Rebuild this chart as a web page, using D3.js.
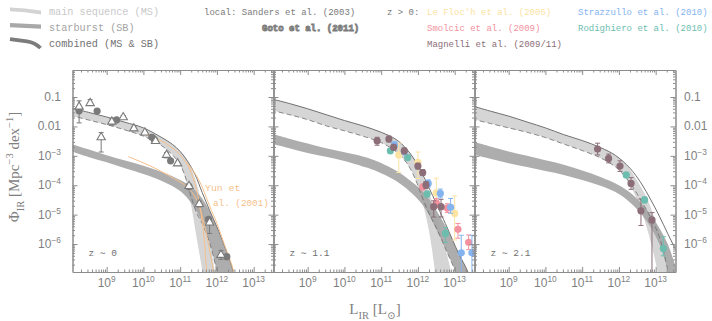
<!DOCTYPE html>
<html>
<head>
<meta charset="utf-8">
<script src="https://cdn.jsdelivr.net/npm/d3@7"></script>
<style>
  body { margin: 0; background: #fff; }
  svg { display: block; }
</style>
</head>
<body>
<script>
// ---- values: [log10 L_IR, log10 Phi] ----
const panelLabels = ["z \u223C 0", "z \u223C 1.1", "z \u223C 2.1"];
const xTickExps = [9, 10, 11, 12, 13];
const yTickExps = [-1, -2, -3, -4, -5, -6];
const yTickText = ["0.1", "0.01", "10|\u22123", "10|\u22124", "10|\u22125", "10|\u22126"];

// main-sequence band edges, one list per panel
const msUpper = [
  [[8.0,-1.36],[8.5,-1.52],[9.0,-1.68],[9.5,-1.86],[10.0,-2.05],[10.5,-2.38],[10.8,-2.62],[11.0,-2.85],[11.2,-3.18],[11.4,-3.75],[11.6,-4.7],[11.8,-5.8],[11.95,-7.0],[12.0,-7.4]],
  [[8.0,-1.06],[8.5,-1.22],[9.0,-1.40],[9.5,-1.60],[10.0,-1.80],[10.5,-1.98],[11.0,-2.2],[11.4,-2.44],[11.7,-2.78],[12.0,-3.32],[12.2,-3.9],[12.4,-4.6],[12.6,-5.45],[12.8,-6.4],[12.9,-6.95],[12.95,-7.4]],
  [[8.0,-1.3],[8.5,-1.48],[9.0,-1.65],[9.5,-1.85],[10.0,-2.05],[10.5,-2.28],[11.0,-2.48],[11.5,-2.72],[11.9,-2.98],[12.2,-3.3],[12.5,-3.85],[12.8,-4.55],[13.0,-5.25],[13.2,-6.15],[13.33,-6.95],[13.4,-7.4]]
];
const msLower = [
  [[8.0,-1.62],[8.5,-1.78],[9.0,-1.94],[9.5,-2.12],[10.0,-2.33],[10.5,-2.66],[10.8,-2.98],[11.0,-3.3],[11.15,-3.8],[11.3,-4.7],[11.45,-5.8],[11.6,-6.9],[11.65,-7.4]],
  [[8.0,-1.45],[8.5,-1.6],[9.0,-1.77],[9.5,-1.98],[10.0,-2.15],[10.5,-2.33],[11.0,-2.55],[11.4,-2.85],[11.7,-3.25],[11.95,-3.85],[12.1,-4.45],[12.3,-5.55],[12.45,-6.8],[12.5,-7.4]],
  [[8.0,-1.75],[8.5,-1.9],[9.0,-2.05],[9.5,-2.2],[10.0,-2.38],[10.5,-2.6],[11.0,-2.82],[11.5,-3.07],[11.9,-3.37],[12.2,-3.8],[12.5,-4.5],[12.7,-5.2],[12.9,-6.1],[13.05,-6.95],[13.1,-7.4]]
];
// starburst band edges
const sbUpper = [
  [[8.0,-2.58],[8.5,-2.78],[9.0,-2.98],[9.5,-3.16],[10.0,-3.34],[10.5,-3.55],[11.0,-3.82],[11.3,-4.05],[11.6,-4.45],[11.85,-5.0],[12.1,-5.75],[12.3,-6.4],[12.45,-6.95],[12.5,-7.4]],
  [[8.0,-2.24],[8.5,-2.42],[9.0,-2.58],[9.5,-2.74],[10.0,-2.88],[10.5,-3.02],[10.8,-3.14],[11.4,-3.5],[11.9,-3.95],[12.2,-4.3],[12.5,-4.85],[12.8,-5.5],[13.1,-6.3],[13.36,-6.95],[13.45,-7.4]],
  [[8.0,-2.5],[8.5,-2.68],[9.0,-2.85],[9.5,-3.0],[10.0,-3.15],[10.5,-3.3],[11.0,-3.5],[11.5,-3.72],[12.0,-4.0],[12.4,-4.35],[12.8,-4.9],[13.1,-5.45],[13.33,-6.0],[13.5,-6.6],[13.6,-7.0]]
];
const sbLower = [
  [[8.0,-2.83],[8.5,-3.04],[9.0,-3.22],[9.5,-3.42],[10.0,-3.62],[10.5,-3.86],[11.0,-4.2],[11.3,-4.6],[11.6,-5.25],[11.8,-5.95],[11.99,-6.9],[12.05,-7.4]],
  [[8.0,-2.58],[8.5,-2.74],[9.0,-2.9],[9.5,-3.03],[10.0,-3.18],[10.5,-3.36],[10.8,-3.48],[11.4,-3.85],[11.9,-4.35],[12.2,-4.8],[12.5,-5.5],[12.8,-6.3],[13.02,-6.95],[13.08,-7.4]],
  [[8.0,-2.95],[8.5,-3.1],[9.0,-3.25],[9.5,-3.38],[10.0,-3.52],[10.5,-3.65],[11.0,-3.82],[11.5,-4.02],[12.0,-4.3],[12.4,-4.7],[12.8,-5.3],[13.1,-6.0],[13.33,-6.9],[13.4,-7.4]]
];
// combined (MS & SB): solid upper edge, dashed lower edge
const combUpper = [
  [[8.0,-1.36],[8.5,-1.52],[9.0,-1.68],[9.5,-1.86],[10.0,-2.05],[10.5,-2.38],[10.8,-2.62],[11.0,-2.85],[11.2,-3.18],[11.4,-3.62],[11.6,-4.25],[11.8,-4.85],[12.0,-5.42],[12.2,-6.05],[12.45,-6.95],[12.5,-7.4]],
  [[8.0,-1.06],[8.5,-1.22],[9.0,-1.40],[9.5,-1.60],[10.0,-1.80],[10.5,-1.98],[11.0,-2.2],[11.4,-2.44],[11.7,-2.78],[12.0,-3.32],[12.2,-3.82],[12.4,-4.35],[12.6,-4.9],[12.8,-5.45],[13.1,-6.3],[13.36,-6.95],[13.45,-7.4]],
  [[8.0,-1.3],[8.5,-1.48],[9.0,-1.65],[9.5,-1.85],[10.0,-2.05],[10.5,-2.28],[11.0,-2.48],[11.5,-2.72],[11.9,-2.98],[12.3,-3.42],[12.6,-3.92],[12.87,-4.5],[13.1,-5.05],[13.33,-5.65],[13.6,-6.35],[13.7,-6.7]]
];
const combLower = [
  [[8.0,-1.62],[8.5,-1.78],[9.0,-1.94],[9.5,-2.12],[10.0,-2.33],[10.5,-2.66],[10.8,-2.98],[11.0,-3.3],[11.15,-3.75],[11.3,-4.4],[11.45,-4.95],[11.6,-5.3],[11.8,-5.95],[11.99,-6.9],[12.05,-7.4]],
  [[8.0,-1.45],[8.5,-1.6],[9.0,-1.77],[9.5,-1.98],[10.0,-2.15],[10.5,-2.33],[11.0,-2.55],[11.4,-2.85],[11.7,-3.25],[11.95,-3.85],[12.1,-4.35],[12.3,-4.95],[12.5,-5.45],[12.8,-6.3],[13.02,-6.95],[13.08,-7.4]],
  [[8.0,-1.75],[8.5,-1.9],[9.0,-2.05],[9.5,-2.2],[10.0,-2.38],[10.5,-2.6],[11.0,-2.82],[11.5,-3.07],[11.9,-3.37],[12.2,-3.75],[12.5,-4.3],[12.8,-4.95],[13.1,-5.75],[13.33,-6.9],[13.4,-7.4]]
];

// Yun et al. (2001), panel z~0 only
const yunLines = [
  [[10.0,-2.26],[10.5,-2.5],[10.9,-2.85],[11.2,-3.3],[11.4,-3.95],[11.55,-4.8],[11.65,-5.8],[11.72,-6.9],[11.75,-7.3]],
  [[9.59,-3.03],[10.2,-3.35],[10.73,-3.7],[11.18,-4.05],[11.45,-4.5],[11.65,-5.3],[11.8,-6.2],[11.9,-6.9],[11.95,-7.3]],
  [[11.2,-3.25],[11.5,-3.8],[11.8,-4.7],[12.0,-5.3],[12.2,-6.0],[12.45,-6.9],[12.5,-7.3]]
];

// data points: [logL, logPhi, errDown, errUp]
const sanders = [[8.25,-1.47,0,0],[8.74,-1.48,0,0],[9.18,-1.82,0,0],[9.27,-1.78,0,0],[10.23,-2.37,0,0],[10.30,-2.46,0,0],[10.74,-3.17,0,0],[11.24,-4.05,0,0],[11.77,-5.16,0,0],[12.27,-6.43,0,0]];
const goto = [[8.25,-1.33,0.55,0.2],[8.55,-1.21,0,0.12],[8.85,-2.37,0.5,0.16],[9.14,-1.84,0.12,0.1],[9.45,-1.69,0.04,0.06],[9.74,-2.07,0.05,0.05],[10.04,-2.21,0.03,0.03],[10.33,-2.50,0.03,0.03],[10.63,-2.97,0.1,0.08],[10.93,-3.26,0.05,0.05],[11.24,-4.03,0.08,0.08],[11.52,-4.64,0.1,0.1],[11.80,-5.27,0.37,0.15],[12.11,-6.37,0.15,0.15]];
const magnelli1 = [[10.89,-2.49,0.15,0.12],[11.21,-2.43,0.1,0.1],[11.34,-2.71,0.1,0.1],[11.63,-2.83,0.1,0.1],[12.0,-3.35,0.1,0.1],[12.13,-3.57,0.1,0.1],[12.22,-3.99,0.12,0.12],[12.43,-4.73,0.35,0.2],[12.63,-4.73,0.35,0.25]];
const rodighiero1 = [[11.25,-2.83,0.08,0.08],[11.72,-3.06,0.08,0.08],[12.25,-4.30,0.1,0.1],[12.75,-5.64,0.3,0.2]];
const strazzullo1 = [[11.36,-2.63,0.1,0.1],[11.63,-2.86,0.1,0.1],[12.28,-3.94,0.12,0.12],[12.61,-4.28,0.15,0.15],[12.89,-4.75,0.2,0.3],[13.18,-6.30,0.7,0.6],[13.47,-6.30,0.7,0.6]];
const leFloch1 = [[11.48,-2.97,0.6,0.4],[12.0,-3.22,0.55,0.35],[12.5,-4.26,0.4,0.5],[13.0,-4.96,0.9,0.6]];
const smolcic1 = [[12.13,-4.06,0.1,0.1],[12.5,-4.6,0.15,0.15],[12.8,-4.78,0.15,0.15],[13.09,-5.5,0.3,0.2],[13.38,-5.94,0.25,0.25]];
const magnelli2 = [[11.42,-2.77,0.2,0.2],[11.72,-3.09,0.15,0.15],[12.03,-3.35,0.18,0.18],[12.33,-3.94,0.2,0.2],[12.6,-4.87,0.5,0.4],[12.9,-5.18,2.0,0.25]];
const rodighiero2 = [[12.2,-3.65,0.08,0.08],[12.7,-4.5,0.1,0.1],[13.21,-6.15,0.25,0.4]];

const col = {
  ms: "#d5d5d5", sb: "#a4a4a4", comb: "#707070", text: "#7f7f7f", axis: "#8c8c8c",
  yun: "#f6bf8c", sanders: "#7a7a7a", magnelli: "#8c6e78", rodighiero: "#6dbdaf",
  strazzullo: "#84b4f0", leFloch: "#fce3a2", smolcic: "#f3919e"
};

const W = 712, H = 321;
const panelX = [72.5, 273.5, 474.5], panelW = 201;
const yTop = 70, yBot = 272;
const mono = "'Liberation Mono', 'DejaVu Sans Mono', monospace";
const sans = "'Liberation Sans', Arial, sans-serif";
const serif = "'Liberation Serif', 'DejaVu Serif', serif";

const svg = d3.select("body").append("svg")
  .attr("width", W).attr("height", H)
  .style("background", "#fff");

const y = d3.scaleLog().domain([10 ** -6.95, 10 ** -0.082]).range([yBot, yTop]);

// text with sup / sub pieces: parts = [[str, kind]]
function richText(g, parts, size) {
  const t = g.append("text").attr("font-size", size);
  let shift = 0;
  parts.forEach(([s, kind]) => {
    const target = kind === "sup" ? -0.42 * size : kind === "sub" ? 0.3 * size : 0;
    t.append("tspan")
      .attr("dy", target - shift)
      .attr("font-size", kind ? size * 0.7 : size)
      .text(s);
    shift = target;
  });
  return t;
}

panelX.forEach((x0, i) => {
  const x = d3.scaleLog().domain([10 ** 8.07, 10 ** 13.54]).range([x0, x0 + panelW]);
  const px = d => x(10 ** d[0]), py = d => y(10 ** d[1]);
  const line = d3.line().x(px).y(py).curve(d3.curveCatmullRom.alpha(0.5));

  const clipId = "clip" + i;
  svg.append("clipPath").attr("id", clipId)
    .append("rect").attr("x", x0).attr("y", yTop).attr("width", panelW).attr("height", yBot - yTop);
  const g = svg.append("g").attr("clip-path", `url(#${clipId})`);

  const band = (up, lo) => line(up.concat(lo.slice().reverse()));
  g.append("path").attr("d", band(msUpper[i], msLower[i])).attr("fill", col.ms);
  g.append("path").attr("d", band(sbUpper[i], sbLower[i])).attr("fill", col.sb).attr("fill-opacity", 0.9);
  g.append("path").attr("d", line(combUpper[i])).attr("fill", "none").attr("stroke", col.comb).attr("stroke-width", 1);
  g.append("path").attr("d", line(combLower[i])).attr("fill", "none").attr("stroke", col.comb)
    .attr("stroke-width", 0.8).attr("stroke-dasharray", "5,3");

  if (i === 0) {
    yunLines.forEach(l => g.append("path").attr("d", line(l)).attr("fill", "none")
      .attr("stroke", col.yun).attr("stroke-width", 1));
  }

  const errBars = (data, color) => {
    const eg = g.append("g").attr("stroke", color).attr("stroke-width", 1);
    data.filter(d => d[2] > 0 || d[3] > 0).forEach(d => {
      const xx = px(d), y1 = y(10 ** (d[1] - d[2])), y2 = y(10 ** (d[1] + d[3]));
      eg.append("line").attr("x1", xx).attr("x2", xx).attr("y1", y1).attr("y2", y2);
      eg.append("line").attr("x1", xx - 2.5).attr("x2", xx + 2.5).attr("y1", y1).attr("y2", y1);
      eg.append("line").attr("x1", xx - 2.5).attr("x2", xx + 2.5).attr("y1", y2).attr("y2", y2);
    });
  };
  const dots = (data, color) => {
    errBars(data, color);
    g.append("g").selectAll("circle").data(data).join("circle")
      .attr("cx", px).attr("cy", py).attr("r", 3.6).attr("fill", color);
  };

  if (i === 0) {
    dots(sanders, col.sanders);
    errBars(goto, col.sanders);
    g.append("g").selectAll("path").data(goto).join("path")
      .attr("d", d3.symbol(d3.symbolTriangle, 30))
      .attr("transform", d => `translate(${px(d)},${py(d)})`)
      .attr("fill", "#fff").attr("stroke", col.sanders).attr("stroke-width", 1.1);
  } else if (i === 1) {
    dots(leFloch1, col.leFloch);
    dots(smolcic1, col.smolcic);
    dots(strazzullo1, col.strazzullo);
    dots(rodighiero1, col.rodighiero);
    dots(magnelli1, col.magnelli);
  } else {
    dots(magnelli2, col.magnelli);
    dots(rodighiero2, col.rodighiero);
  }

  // frame and inward ticks on all four sides
  const minorX = [], minorY = [];
  for (let e = 8; e <= 13; e++) for (let k = 2; k <= 9; k++) {
    const v = k * 10 ** e;
    if (v >= x.domain()[0] && v <= x.domain()[1]) minorX.push(v);
  }
  for (let e = -7; e <= -1; e++) for (let k = 2; k <= 9; k++) {
    const v = k * 10 ** e;
    if (v >= y.domain()[0] && v <= y.domain()[1]) minorY.push(v);
  }
  const majorX = xTickExps.map(e => 10 ** e), majorY = yTickExps.map(e => 10 ** e);
  const axes = [
    [d3.axisBottom(x), `translate(0,${yBot})`, majorX, minorX],
    [d3.axisTop(x), `translate(0,${yTop})`, majorX, minorX],
    [d3.axisLeft(y), `translate(${x0},0)`, majorY, minorY],
    [d3.axisRight(y), `translate(${x0 + panelW},0)`, majorY, minorY]
  ];
  axes.forEach(([ax, tr, major, minor]) => {
    svg.append("g").attr("transform", tr)
      .call(ax.tickValues(minor).tickSizeInner(-2.5).tickSizeOuter(0).tickFormat(""))
      .call(a => a.selectAll("line, path").attr("stroke", col.axis));
    svg.append("g").attr("transform", tr)
      .call(ax.tickValues(major).tickSizeInner(-5).tickSizeOuter(0).tickFormat(""))
      .call(a => a.selectAll("line, path").attr("stroke", col.axis));
  });

  // bottom tick labels
  xTickExps.forEach(e => {
    richText(svg, [["10", null], [String(e), "sup"]], 12)
      .attr("x", x(10 ** e)).attr("y", 287)
      .attr("text-anchor", "middle").attr("fill", col.text).attr("font-family", sans);
  });

  svg.append("text").attr("x", x0 + 16).attr("y", 256)
    .attr("font-family", mono).attr("font-size", 9.5).attr("fill", "#707070")
    .text(panelLabels[i]);

  if (i === 0) {
    svg.append("text").attr("x", 205).attr("y", 191).attr("font-family", mono)
      .attr("font-size", 9.8).attr("fill", col.yun).text("Yun et");
    svg.append("text").attr("x", 213).attr("y", 206).attr("font-family", mono)
      .attr("font-size", 9.3).attr("fill", col.yun).text("al. (2001)");
  }
});

// y tick labels, left of panel 1 and right of panel 3
yTickExps.forEach((e, j) => {
  const [base, sup] = yTickText[j].split("|");
  [[61, "end"], [684, "start"]].forEach(([xx, anchor]) => {
    const parts = sup ? [[base, null], [sup, "sup"]] : [[base, null]];
    richText(svg, parts, 12).attr("x", xx).attr("y", y(10 ** e) + 4)
      .attr("text-anchor", anchor).attr("fill", col.text).attr("font-family", sans);
  });
});

// axis titles
richText(svg, [["\u03A6", null], ["IR", "sub"], [" [Mpc", null], ["\u22123", "sup"], [" dex", null], ["\u22121", "sup"], ["]", null]], 15)
  .attr("text-anchor", "middle").attr("fill", col.text).attr("font-family", serif)
  .attr("transform", "translate(19,167) rotate(-90)");
richText(svg, [["L", null], ["IR", "sub"], [" [L", null], ["\u2299", "sub"], ["]", null]], 15)
  .attr("x", 375).attr("y", 314).attr("text-anchor", "middle")
  .attr("fill", col.text).attr("font-family", serif);

// legend swatches
const lg = svg.append("g");
lg.append("path").attr("d", "M10,7.5 L25,8.6 L41,10.5 L41,14.5 L25,12.2 L10,11.2 Z").attr("fill", "#d3d3d3");
lg.append("path").attr("d", "M10,23 L41,24.5 L41,28.8 L10,27.3 Z").attr("fill", "#a8a8a8");
lg.append("path").attr("d", "M10,39.2 L27,41.3 Q35,42.5 40.5,48").attr("fill", "none")
  .attr("stroke", "#7c7c7c").attr("stroke-width", 3.8);

const legendText = [
  [49, 15, 10.2, "#c9c9c9", "main sequence (MS)"],
  [49, 31, 10.2, "#a3a3a3", "starburst (SB)"],
  [49, 47, 10.2, "#727272", "combined (MS & SB)"],
  [204, 15, 9, "#7a7a7a", "local: Sanders et al. (2003)"],
  [387, 15, 9, "#7a7a7a", "z > 0:"],
  [427, 15, 9, col.leFloch, "Le Floc'h et al. (2005)"],
  [427, 31, 9, col.smolcic, "Smolcic et al. (2009)"],
  [427, 47, 9, col.magnelli, "Magnelli et al. (2009/11)"],
  [578, 15, 9, col.strazzullo, "Strazzullo et al. (2010)"],
  [578, 31, 9, col.rodighiero, "Rodighiero et al. (2010)"]
];
legendText.forEach(([xx, yy, fs, c, s]) => {
  lg.append("text").attr("x", xx).attr("y", yy).attr("font-family", mono)
    .attr("font-size", fs).attr("fill", c).text(s);
});
lg.append("text").attr("x", 262).attr("y", 31).attr("font-family", mono)
  .attr("font-size", 9).attr("font-weight", "bold").attr("fill", "#c4c4c4")
  .attr("stroke", "#7a7a7a").attr("stroke-width", 0.9).text("Goto et al. (2011)");
</script>
</body>
</html>
